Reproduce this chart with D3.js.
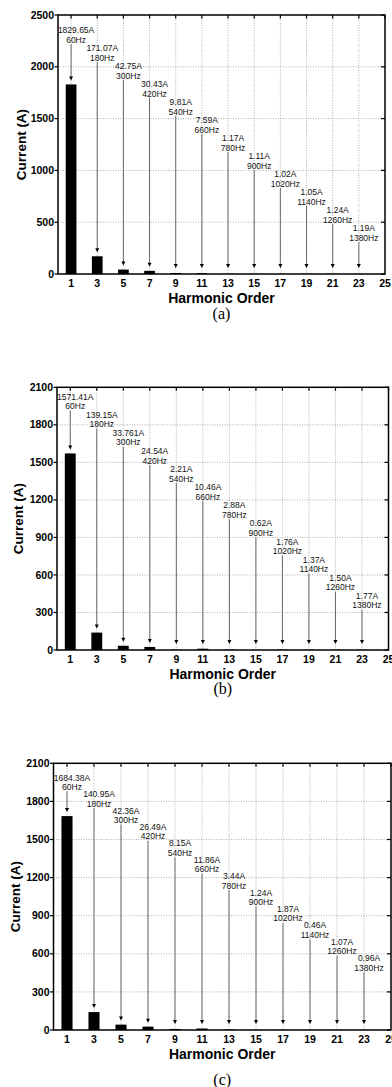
<!DOCTYPE html>
<html>
<head>
<meta charset="utf-8">
<script src="https://cdn.jsdelivr.net/npm/d3@7"></script>
<style>
  body { margin: 0; background: #fff; }
  svg { display: block; }
</style>
</head>
<body>
<div id="chart"></div>
<script>
// harmonic orders and their frequencies
const harmonics = [1, 3, 5, 7, 9, 11, 13, 15, 17, 19, 21, 23];
const freqLabels = ["60Hz", "180Hz", "300Hz", "420Hz", "540Hz", "660Hz", "780Hz", "900Hz", "1020Hz", "1140Hz", "1260Hz", "1380Hz"];
const xTicks = [1, 3, 5, 7, 9, 11, 13, 15, 17, 19, 21, 23, 25];

// current amplitudes (A)
const currentA = [1829.65, 171.07, 42.75, 30.43, 9.81, 7.59, 1.17, 1.11, 1.02, 1.05, 1.24, 1.19];
const currentB = [1571.41, 139.15, 33.761, 24.54, 2.21, 10.46, 2.88, 0.62, 1.76, 1.37, 1.50, 1.77];
const currentC = [1684.38, 140.95, 42.36, 26.49, 8.15, 11.86, 3.44, 1.24, 1.87, 0.46, 1.07, 0.96];

const yTicksA = [0, 500, 1000, 1500, 2000, 2500];
const yTicksBC = [0, 300, 600, 900, 1200, 1500, 1800, 2100];

const width = 392;
const height = 1087;

const svg = d3.select("#chart")
  .append("svg")
  .attr("width", width)
  .attr("height", height);

const panels = [
  { caption: "(a)", values: currentA, yTicks: yTicksA, left: 58, right: 385, top: 15, bottom: 274,
    labelStart: 15, labelStep: 18, yTitleX: 21, capDy: 44.5 },
  { caption: "(b)", values: currentB, yTicks: yTicksBC, left: 57, right: 388.5, top: 387.3, bottom: 650,
    labelStart: 9.4, labelStep: 18.1, yTitleX: 18.5, capDy: 44.3 },
  { caption: "(c)", values: currentC, yTicks: yTicksBC, left: 53.5, right: 391, top: 763.3, bottom: 1030,
    labelStart: 14.4, labelStep: 16.4, yTitleX: 15.5, capDy: 55 }
];

const fmtA = v => {
  const dec = (String(v).split(".")[1] || "").length;
  return (dec > 2 ? String(v) : v.toFixed(2)) + "A";
};

panels.forEach(p => drawPanel(p));

function drawPanel(p) {
  const x = d3.scaleLinear().domain([0, 25]).range([p.left, p.right]);
  const y = d3.scaleLinear().domain([0, d3.max(p.yTicks)]).range([p.bottom, p.top]);
  const g = svg.append("g");
  const barW = x(0.82) - x(0);

  // grid
  g.selectAll(".hgrid")
    .data(p.yTicks.slice(1, -1))
    .enter()
    .append("line")
    .attr("x1", p.left).attr("x2", p.right)
    .attr("y1", d => y(d)).attr("y2", d => y(d))
    .attr("stroke", "#9a9a9a")
    .attr("stroke-width", 0.8)
    .attr("stroke-dasharray", "1,1.5");

  g.selectAll(".vgrid")
    .data(xTicks.slice(0, -1))
    .enter()
    .append("line")
    .attr("x1", d => x(d)).attr("x2", d => x(d))
    .attr("y1", p.top).attr("y2", p.bottom)
    .attr("stroke", "#9a9a9a")
    .attr("stroke-width", 0.8)
    .attr("stroke-dasharray", "1,1.5");

  // bars
  g.selectAll(".bar")
    .data(p.values)
    .enter()
    .append("rect")
    .attr("x", (d, i) => x(harmonics[i]) - barW / 2)
    .attr("y", d => y(d))
    .attr("width", barW)
    .attr("height", d => p.bottom - y(d))
    .attr("fill", "#000");

  // annotations: staircase of labels with arrows down to each bar
  p.values.forEach((v, i) => {
    const hx = x(harmonics[i]);
    const ly = p.top + p.labelStart + i * p.labelStep;
    const tip = Math.min(y(v), p.bottom - 2) - 4;

    g.append("text")
      .attr("x", hx + 5)
      .attr("y", ly + 3)
      .attr("text-anchor", "middle")
      .style("font-family", "'Liberation Sans', Arial, sans-serif")
      .style("font-size", "8.5px")
      .style("fill", "#111")
      .text(fmtA(v));

    g.append("text")
      .attr("x", hx + 5)
      .attr("y", ly + 12.5)
      .attr("text-anchor", "middle")
      .style("font-family", "'Liberation Sans', Arial, sans-serif")
      .style("font-size", "8.5px")
      .style("fill", "#111")
      .text(freqLabels[i]);

    g.append("line")
      .attr("x1", hx).attr("x2", hx)
      .attr("y1", ly + 14).attr("y2", tip - 3)
      .attr("stroke", "#333")
      .attr("stroke-width", 0.7);

    g.append("path")
      .attr("d", `M${hx - 2},${tip - 4}L${hx + 2},${tip - 4}L${hx},${tip}Z`)
      .attr("fill", "#000");
  });

  // frame
  g.append("rect")
    .attr("x", p.left).attr("y", p.top)
    .attr("width", p.right - p.left)
    .attr("height", p.bottom - p.top)
    .attr("fill", "none")
    .attr("stroke", "#000")
    .attr("stroke-width", 1.5);

  // ticks: left outward, right inward, top inward
  p.yTicks.forEach(t => {
    g.append("line")
      .attr("x1", p.left - 3.5).attr("x2", p.left)
      .attr("y1", y(t)).attr("y2", y(t))
      .attr("stroke", "#000").attr("stroke-width", 1.2);
    g.append("line")
      .attr("x1", p.right - 4).attr("x2", p.right)
      .attr("y1", y(t)).attr("y2", y(t))
      .attr("stroke", "#000").attr("stroke-width", 1.2);
  });
  xTicks.forEach(t => {
    g.append("line")
      .attr("x1", x(t)).attr("x2", x(t))
      .attr("y1", p.top).attr("y2", p.top + 3.5)
      .attr("stroke", "#000").attr("stroke-width", 1.2);
  });

  // tick labels
  g.selectAll(".ylab")
    .data(p.yTicks)
    .enter()
    .append("text")
    .attr("x", p.left - 4)
    .attr("y", d => y(d) + 3.6)
    .attr("text-anchor", "end")
    .style("font-family", "'Liberation Sans', Arial, sans-serif")
    .style("font-weight", "bold")
    .style("font-size", "10.5px")
    .text(d => d);

  g.selectAll(".xlab")
    .data(xTicks)
    .enter()
    .append("text")
    .attr("x", d => x(d))
    .attr("y", p.bottom + 12.5)
    .attr("text-anchor", "middle")
    .style("font-family", "'Liberation Sans', Arial, sans-serif")
    .style("font-weight", "bold")
    .style("font-size", "10.5px")
    .text(d => d);

  // axis titles
  g.append("text")
    .attr("transform", `translate(${p.yTitleX}, ${(p.top + p.bottom) / 2}) rotate(-90)`)
    .attr("dy", "0.35em")
    .attr("text-anchor", "middle")
    .style("font-family", "'Liberation Sans', Arial, sans-serif")
    .style("font-weight", "bold")
    .style("font-size", "13.5px")
    .text("Current (A)");

  g.append("text")
    .attr("x", (p.left + p.right) / 2)
    .attr("y", p.bottom + 29)
    .attr("text-anchor", "middle")
    .style("font-family", "'Liberation Sans', Arial, sans-serif")
    .style("font-weight", "bold")
    .style("font-size", "14px")
    .text("Harmonic Order");

  g.append("text")
    .attr("x", (p.left + p.right) / 2)
    .attr("y", p.bottom + p.capDy)
    .attr("text-anchor", "middle")
    .style("font-family", "'Liberation Serif', 'Times New Roman', serif")
    .style("font-size", "16px")
    .text(p.caption);
}
</script>
</body>
</html>
